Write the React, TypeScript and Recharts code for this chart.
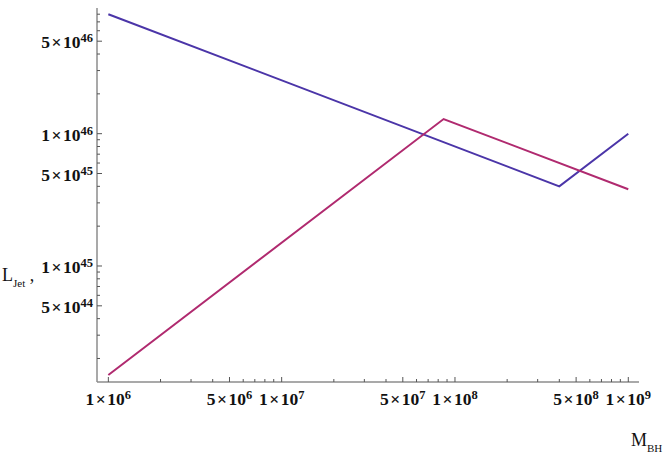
import React from 'react';
import { LineChart, Line, XAxis, YAxis } from 'recharts';

// vertices (M_BH, L_Jet)
const blueMass = [1e6, 4e8, 1e9];
const blueLum = [8e46, 4e45, 1e46];
const redMass = [1e6, 8.6e7, 1e9];
const redLum = [1.5e44, 1.29e46, 3.8e45];

const xDecades = [1e6, 1e7, 1e8];
const yDecades = [1e44, 1e45, 1e46];
const minorSteps = [1, 2, 3, 4, 5, 6, 7, 8, 9];
const labelledSteps = [1, 5];

const xDomain = [8.6e5, 1.153e9];
const yDomain = [1.328e44, 8.91e46];

const xTicks = [...xDecades.flatMap((d) => minorSteps.map((m) => m * d)), 1e9];
const yTicks = yDecades
  .flatMap((d) => minorSteps.map((m) => m * d))
  .filter((v) => v >= yDomain[0] && v <= yDomain[1]);

const blueData = blueMass.map((m, i) => ({ m, l: blueLum[i] }));
const redData = redMass.map((m, i) => ({ m, l: redLum[i] }));

const FRAME = '#8c8c8c';
const TICK = '#555';
const FONT = '"Liberation Serif", "DejaVu Serif", serif';

const split = (v: number) => {
  const exp = Math.floor(Math.log10(v) + 1e-9);
  const man = Math.round(v / Math.pow(10, exp));
  return { exp, man };
};

const TickLabel = ({ x, y, v, anchor }: any) => {
  const { exp, man } = split(v);
  return (
    <text x={x} y={y} textAnchor={anchor} fontFamily={FONT} fontWeight="bold" fontSize={17.5} fill="#111">
      {man}
      <tspan dx={1.5}>×</tspan>
      <tspan dx={1.5}>10</tspan>
      <tspan dy={-6} fontSize={12.5}>{exp}</tspan>
    </text>
  );
};

const BottomTick = (props: any) => {
  const { x, y, payload } = props;
  const { man } = split(payload.value);
  const major = labelledSteps.includes(man);
  return (
    <g>
      <line x1={x} x2={x} y1={y} y2={y - (major ? 5 : 3)} stroke={TICK} />
      {major && <TickLabel x={x} y={y + 23} v={payload.value} anchor="middle" />}
    </g>
  );
};

const TopTick = (props: any) => {
  const { x, y, payload } = props;
  const { man } = split(payload.value);
  const major = labelledSteps.includes(man);
  return <line x1={x} x2={x} y1={y} y2={y + (major ? 5 : 3)} stroke={TICK} />;
};

const LeftTick = (props: any) => {
  const { x, y, payload } = props;
  const { man } = split(payload.value);
  const major = labelledSteps.includes(man);
  return (
    <g>
      <line x1={x} x2={x + (major ? 5 : 3)} y1={y} y2={y} stroke={TICK} />
      {major && <TickLabel x={x - 4} y={y + 7} v={payload.value} anchor="end" />}
    </g>
  );
};

const RightTick = (props: any) => {
  const { x, y, payload } = props;
  const { man } = split(payload.value);
  const major = labelledSteps.includes(man);
  return <line x1={x} x2={x - (major ? 5 : 3)} y1={y} y2={y} stroke={TICK} />;
};

const MTitle = () => (
  <text x={631} y={446} fontFamily={FONT} fontSize={18} fill="#111">
    M<tspan fontSize={11} dy={6}>BH</tspan>
  </text>
);

const LTitle = () => (
  <text x={2} y={281} fontFamily={FONT} fontSize={18} fill="#111">
    L<tspan fontSize={11} dy={6}>Jet</tspan>
    <tspan dy={-6}> ,</tspan>
  </text>
);

const App: React.FC = () => {
  return (
    <div style={{ position: 'absolute', left: 0, top: 0, background: '#fff' }}>
      <LineChart width={665} height={453} margin={{ top: 8, right: 26, left: 0, bottom: 0 }}>
        <XAxis
          xAxisId="b"
          dataKey="m"
          type="number"
          scale="log"
          domain={xDomain}
          allowDataOverflow
          ticks={xTicks}
          interval={0}
          height={71}
          tickSize={0}
          tickMargin={0}
          tickLine={false}
          axisLine={{ stroke: FRAME, strokeWidth: 1.5 }}
          tick={<BottomTick />}
          label={<MTitle />}
        />
        <XAxis
          xAxisId="t"
          orientation="top"
          dataKey="m"
          type="number"
          scale="log"
          domain={xDomain}
          allowDataOverflow
          ticks={xTicks}
          interval={0}
          height={0}
          tickSize={0}
          tickMargin={0}
          tickLine={false}
          axisLine={{ stroke: FRAME, strokeWidth: 1.5 }}
          tick={<TopTick />}
        />
        <YAxis
          yAxisId="l"
          dataKey="l"
          type="number"
          scale="log"
          domain={yDomain}
          allowDataOverflow
          ticks={yTicks}
          interval={0}
          width={97}
          tickSize={0}
          tickMargin={0}
          tickLine={false}
          axisLine={{ stroke: FRAME, strokeWidth: 1.5 }}
          tick={<LeftTick />}
          label={<LTitle />}
        />
        <YAxis
          yAxisId="r"
          orientation="right"
          dataKey="l"
          type="number"
          scale="log"
          domain={yDomain}
          allowDataOverflow
          ticks={yTicks}
          interval={0}
          width={0}
          tickSize={0}
          tickMargin={0}
          tickLine={false}
          axisLine={{ stroke: FRAME, strokeWidth: 1.5 }}
          tick={<RightTick />}
        />
        <Line
          xAxisId="b"
          yAxisId="l"
          data={blueData}
          dataKey="l"
          type="linear"
          stroke="#4b35a8"
          strokeWidth={2}
          dot={false}
          isAnimationActive={false}
        />
        <Line
          xAxisId="b"
          yAxisId="l"
          data={redData}
          dataKey="l"
          type="linear"
          stroke="#b02a6f"
          strokeWidth={2}
          dot={false}
          isAnimationActive={false}
        />
      </LineChart>
    </div>
  );
};

export default App;
